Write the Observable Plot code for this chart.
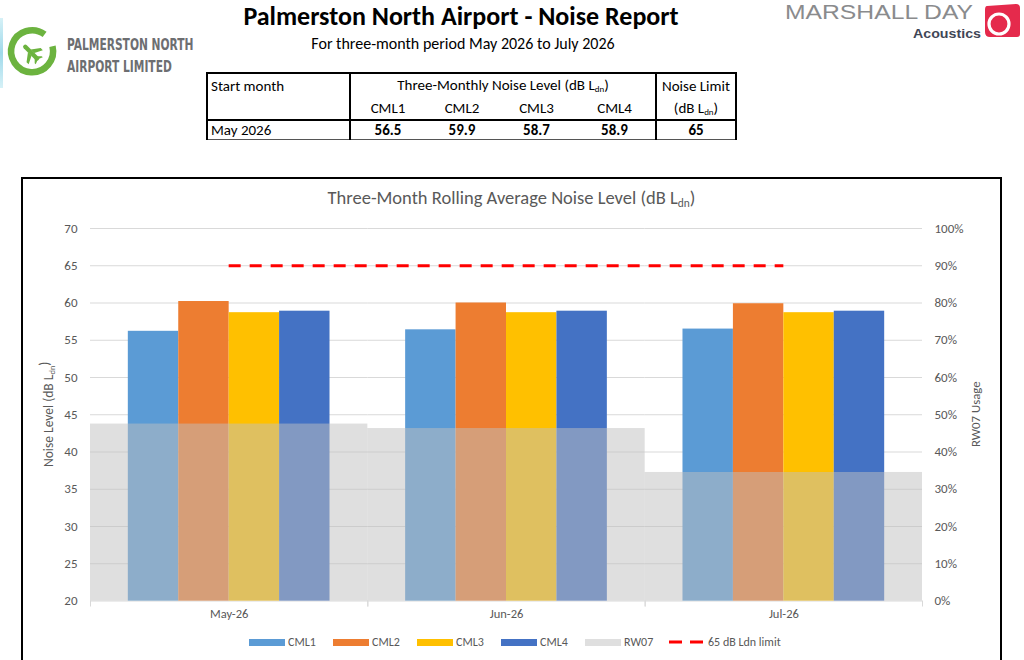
<!DOCTYPE html>
<html>
<head>
<meta charset="utf-8">
<script src="https://cdn.jsdelivr.net/npm/d3@7"></script>
<script src="https://cdn.jsdelivr.net/npm/@observablehq/plot@0.6"></script>
<style>
  html, body { margin: 0; padding: 0; background: #fff; }
  body { width: 1024px; height: 660px; overflow: hidden; position: relative; font-family: Carlito, Calibri, Lato, sans-serif; color: #000; }
  .abs { position: absolute; }
  #title { left: 0; width: 922px; top: 0px; text-align: center; font-size: 26px; font-weight: 700; }
  #subtitle { left: 0; width: 926px; top: 34px; text-align: center; font-size: 16px; }
  #tbl { left: 206px; top: 72px; border-collapse: collapse; table-layout: fixed; font-size: 15px; }
  #tbl td { padding: 0 3px; white-space: nowrap; }
  #tbl sub { font-size: 0.6em; vertical-align: -0.25em; }
  #box { left: 21px; top: 177px; width: 981px; height: 520px; border: 2px solid #000; box-sizing: border-box; }
  #ctitle { left: 23px; width: 977px; top: 186px; text-align: center; font-size: 18.5px; color: #595959; }
  #ctitle sub { font-size: 0.62em; vertical-align: -0.3em; }
  #chart { left: 23px; top: 213px; }
  #legend { left: 249px; top: 634px; display: flex; font-size: 12px; color: #595959; }
  .item { width: 84px; display: flex; align-items: center; height: 16px; white-space: nowrap; }
  .item.last { width: auto; }
  .sw { width: 36px; height: 7px; margin-right: 3px; }
</style>
</head>
<body>
<!-- left edge strip -->
<div class="abs" style="left:0;top:18px;width:3px;height:70px;background:linear-gradient(#d6f1f7,#9fd9ea,#d6f1f7);"></div>

<!-- Palmerston North Airport logo -->
<svg class="abs" style="left:0;top:20px" width="210" height="70">
  <g transform="translate(0,-20)">
    <path d="M 44.6 34.4 A 21 21 0 1 0 52.5 46.3" fill="none" stroke="#6cb33f" stroke-width="6.5" stroke-linecap="butt"/>
    <g transform="translate(31.5,53) rotate(-45)" fill="#6cb33f">
      <rect x="-2.2" y="-11" width="4.4" height="21" rx="2.2"/>
      <path d="M -2 -3 L -10 3 L -10 6 L -2 2 Z M 2 -3 L 10 3 L 10 6 L 2 2 Z"/>
      <path d="M -1.5 6 L -5 9.5 L -5 11 L 0 9 L 5 11 L 5 9.5 L 1.5 6 Z"/>
    </g>
    <g transform="translate(67,49.5) scale(0.95,1.32)">
      <text x="0" y="0" font-family="'DejaVu Sans Condensed','Liberation Sans Narrow',sans-serif" font-weight="700" font-size="12.5" fill="#6d6e71">PALMERSTON NORTH</text>
    </g>
    <g transform="translate(67,71.5) scale(0.95,1.32)">
      <text x="0" y="0" font-family="'DejaVu Sans Condensed','Liberation Sans Narrow',sans-serif" font-weight="700" font-size="12.5" fill="#6d6e71">AIRPORT LIMITED</text>
    </g>
  </g>
</svg>

<!-- Marshall Day logo -->
<svg class="abs" style="left:770px;top:0" width="254" height="50">
  <g transform="translate(-770,0)">
    <text x="785" y="18.5" font-family="'Liberation Sans',Arial,sans-serif" font-size="20.5" fill="#8a8b8d" textLength="188" lengthAdjust="spacingAndGlyphs">MARSHALL DAY</text>
    <text x="913" y="37.5" font-family="'Liberation Sans',Arial,sans-serif" font-weight="700" font-size="13.5" fill="#3f4656" textLength="68" lengthAdjust="spacingAndGlyphs">Acoustics</text>
    <path d="M 987 6 L 1016 4 Q 1020 4 1020 8 L 1020 34 Q 1020 37 1017 37 L 990 37 Q 985 37 985 32 L 985 10 Q 985 6 987 6 Z" fill="#e52a4c"/>
    <circle cx="999" cy="24" r="10" fill="none" stroke="#fff" stroke-width="3.2"/>
    <circle cx="999" cy="24" r="4" fill="#e52a4c"/>
  </g>
</svg>

<div id="title" class="abs">Palmerston North Airport - Noise Report</div>
<div id="subtitle" class="abs">For three-month period May 2026 to July 2026</div>

<table id="tbl" class="abs"></table>

<div id="box" class="abs"></div>
<div id="ctitle" class="abs">Three-Month Rolling Average Noise Level (dB L<sub>dn</sub>)</div>
<div id="chart" class="abs"></div>
<div id="legend" class="abs"></div>

<script>
// ---------------- data ----------------
const months = ["May-26", "Jun-26", "Jul-26"];
const series = ["CML1", "CML2", "CML3", "CML4"];
const cml1 = [56.2, 56.4, 56.5];
const cml2 = [60.2, 60.0, 59.9];
const cml3 = [58.7, 58.7, 58.7];
const cml4 = [58.9, 58.9, 58.9];
const rw07Pct = [47.5, 46.3, 34.5];           // RW07 usage, % (secondary axis)
const limitDb = 65;
const limitLabel = "65 dB Ldn limit";
const rwLabel = "RW07";
const yTicks = [20, 25, 30, 35, 40, 45, 50, 55, 60, 65, 70];
const colors = ["#5B9BD5", "#ED7D31", "#FFC000", "#4472C4"];
const rwColor = "#BFBFBF";

// summary table
const tableStart = "May 2026";
const tableValues = [56.5, 59.9, 58.7, 58.9];
const tableLimit = 65;

// ---------------- table ----------------
{
  const t = document.getElementById("tbl");
  const B = "2px solid #000";
  const Bb = "1px solid #555";
  let html = `<colgroup><col style="width:143px"><col style="width:75px"><col style="width:74px"><col style="width:75px"><col style="width:82px"><col style="width:82px"></colgroup>`;
  html += `<tr style="height:24px">
    <td style="border-left:${B};border-top:${B};border-right:${B};vertical-align:middle">Start month</td>
    <td colspan="4" style="border-top:${B};text-align:center">Three-Monthly Noise Level (dB L<sub>dn</sub>)</td>
    <td style="border-top:${B};border-left:${B};border-right:${B};text-align:center">Noise Limit</td></tr>`;
  html += `<tr style="height:23px"><td style="border-left:${B};border-right:${B};border-bottom:${B}"></td>` +
    series.map(s => `<td style="text-align:center;border-bottom:${B}">${s}</td>`).join("") +
    `<td style="text-align:center;border-left:${B};border-right:${B};border-bottom:${B}">(dB L<sub>dn</sub>)</td></tr>`;
  html += `<tr style="height:19px"><td style="border-left:${B};border-right:${B};border-bottom:${Bb}">${tableStart}</td>` +
    tableValues.map(v => `<td style="text-align:center;font-weight:700;border-bottom:${Bb}">${v.toFixed(1)}</td>`).join("") +
    `<td style="text-align:center;font-weight:700;border-left:${B};border-right:${B};border-bottom:${Bb}">${tableLimit}</td></tr>`;
  t.innerHTML = html;
  t.querySelector("colgroup").lastElementChild.remove();
  t.style.width = "531px";
}

// ---------------- chart ----------------
const W = 977, H = 415, MT = 15, MB = 27.5, ML = 67, MR = 78;
const values = [cml1, cml2, cml3, cml4];
const bars = months.flatMap((m, i) => series.map((s, k) => ({month: m, series: s, value: values[k][i]})));
const pctToDb = p => 20 + p * (70 - 20) / 100;    // secondary axis 0–100% ↔ 20–70 dB
const rwData = months.map((m, i) => ({month: m, pct: rw07Pct[i]}));
const limitData = months.map(m => ({month: m, y: limitDb}));
const plotH = H - MT - MB;
const facetW = (W - ML - MR) / months.length;
const dash = [12, 9];
const period = dash[0] + dash[1];
const red = {stroke: "#FF0000", strokeWidth: 3, strokeDasharray: dash.join(",")};

const font = "Carlito, Calibri, Lato, sans-serif";
const plot = Plot.plot({
  width: W, height: H,
  marginTop: MT, marginBottom: MB, marginLeft: ML, marginRight: MR,
  style: {fontFamily: font, color: "#595959", background: "transparent", overflow: "visible"},
  fx: {domain: months, padding: 0, round: false, label: null},
  x: {domain: series, paddingInner: 0, paddingOuter: 0.75, round: false, axis: null},
  y: {domain: [20, 70], label: null},
  color: {domain: series, range: colors},
  marks: [
    Plot.gridY(yTicks, {stroke: "#D9D9D9", strokeOpacity: 1, strokeWidth: 1}),
    Plot.barY(bars, {fx: "month", x: "series", y1: 20, y2: "value", fill: "series", inset: 0}),
    Plot.rect(rwData, {fx: "month", y1: 20, y2: d => pctToDb(d.pct), fill: rwColor, fillOpacity: 0.5}),
    Plot.frame({anchor: "left", stroke: "#D9D9D9", strokeOpacity: 1, insetTop: plotH, insetBottom: -5}),
    Plot.frame({anchor: "right", stroke: "#D9D9D9", strokeOpacity: 1, insetTop: plotH, insetBottom: -5}),
    Plot.ruleY(limitData.slice(0, 1), {fx: "month", y: "y", insetLeft: facetW / 2, ...red}),
    Plot.ruleY(limitData.slice(1, -1), {fx: "month", y: "y", ...red, strokeDashoffset: (facetW / 2) % period}),
    Plot.ruleY(limitData.slice(-1), {fx: "month", y: "y", insetRight: facetW / 2, ...red, strokeDashoffset: (facetW * 1.5) % period}),
    Plot.axisY(yTicks, {anchor: "left", tickSize: 0, tickPadding: 13, fontSize: 13, fill: "#595959", label: null}),
    Plot.axisY(yTicks, {anchor: "right", tickSize: 0, tickPadding: 12, fontSize: 13, fill: "#595959", label: null,
      tickFormat: d => `${Math.round((d - 20) * 100 / 50)}%`}),
    Plot.axisFx({anchor: "bottom", tickSize: 0, tickPadding: 8, fontSize: 12.5, fill: "#595959", label: null})
  ]
});
document.getElementById("chart").append(plot);

// axis titles with subscripts
{
  const svg = d3.select(plot);
  const ys = plot.scale("y");
  const yMid = (ys.apply(20) + ys.apply(70)) / 2;
  const left = svg.append("text")
    .attr("transform", `translate(${27},${yMid}) rotate(-90)`)
    .attr("text-anchor", "middle").attr("dominant-baseline", "middle")
    .attr("font-family", font).attr("font-size", 13.5).attr("fill", "#595959");
  left.append("tspan").text("Noise Level (dB L");
  left.append("tspan").attr("font-size", 8.5).attr("dy", "0.3em").text("dn");
  left.append("tspan").attr("dy", "-0.45em").text(")");
  svg.append("text")
    .attr("transform", `translate(${954},${yMid}) rotate(-90)`)
    .attr("text-anchor", "middle").attr("dominant-baseline", "middle")
    .attr("font-family", font).attr("font-size", 12.8).attr("fill", "#595959")
    .text("RW07 Usage");
}

// legend
{
  const lg = document.getElementById("legend");
  const items = series.map((s, i) => ({label: s, color: colors[i], type: "box"}))
    .concat([{label: rwLabel, color: "#DFDFDF", type: "box"}, {label: limitLabel, color: "#FF0000", type: "dash"}]);
  for (const it of items) {
    const d = document.createElement("div");
    d.className = "item" + (it.type === "dash" ? " last" : "");
    if (it.type === "box") {
      d.innerHTML = `<span class="sw" style="background:${it.color}"></span><span>${it.label}</span>`;
    } else {
      d.innerHTML = `<svg width="36" height="8" style="margin-right:3px"><line x1="0" x2="36" y1="4" y2="4" stroke="${it.color}" stroke-width="3" stroke-dasharray="13,8"/></svg><span>${it.label}</span>`;
    }
    lg.append(d);
  }
}
</script>
</body>
</html>
